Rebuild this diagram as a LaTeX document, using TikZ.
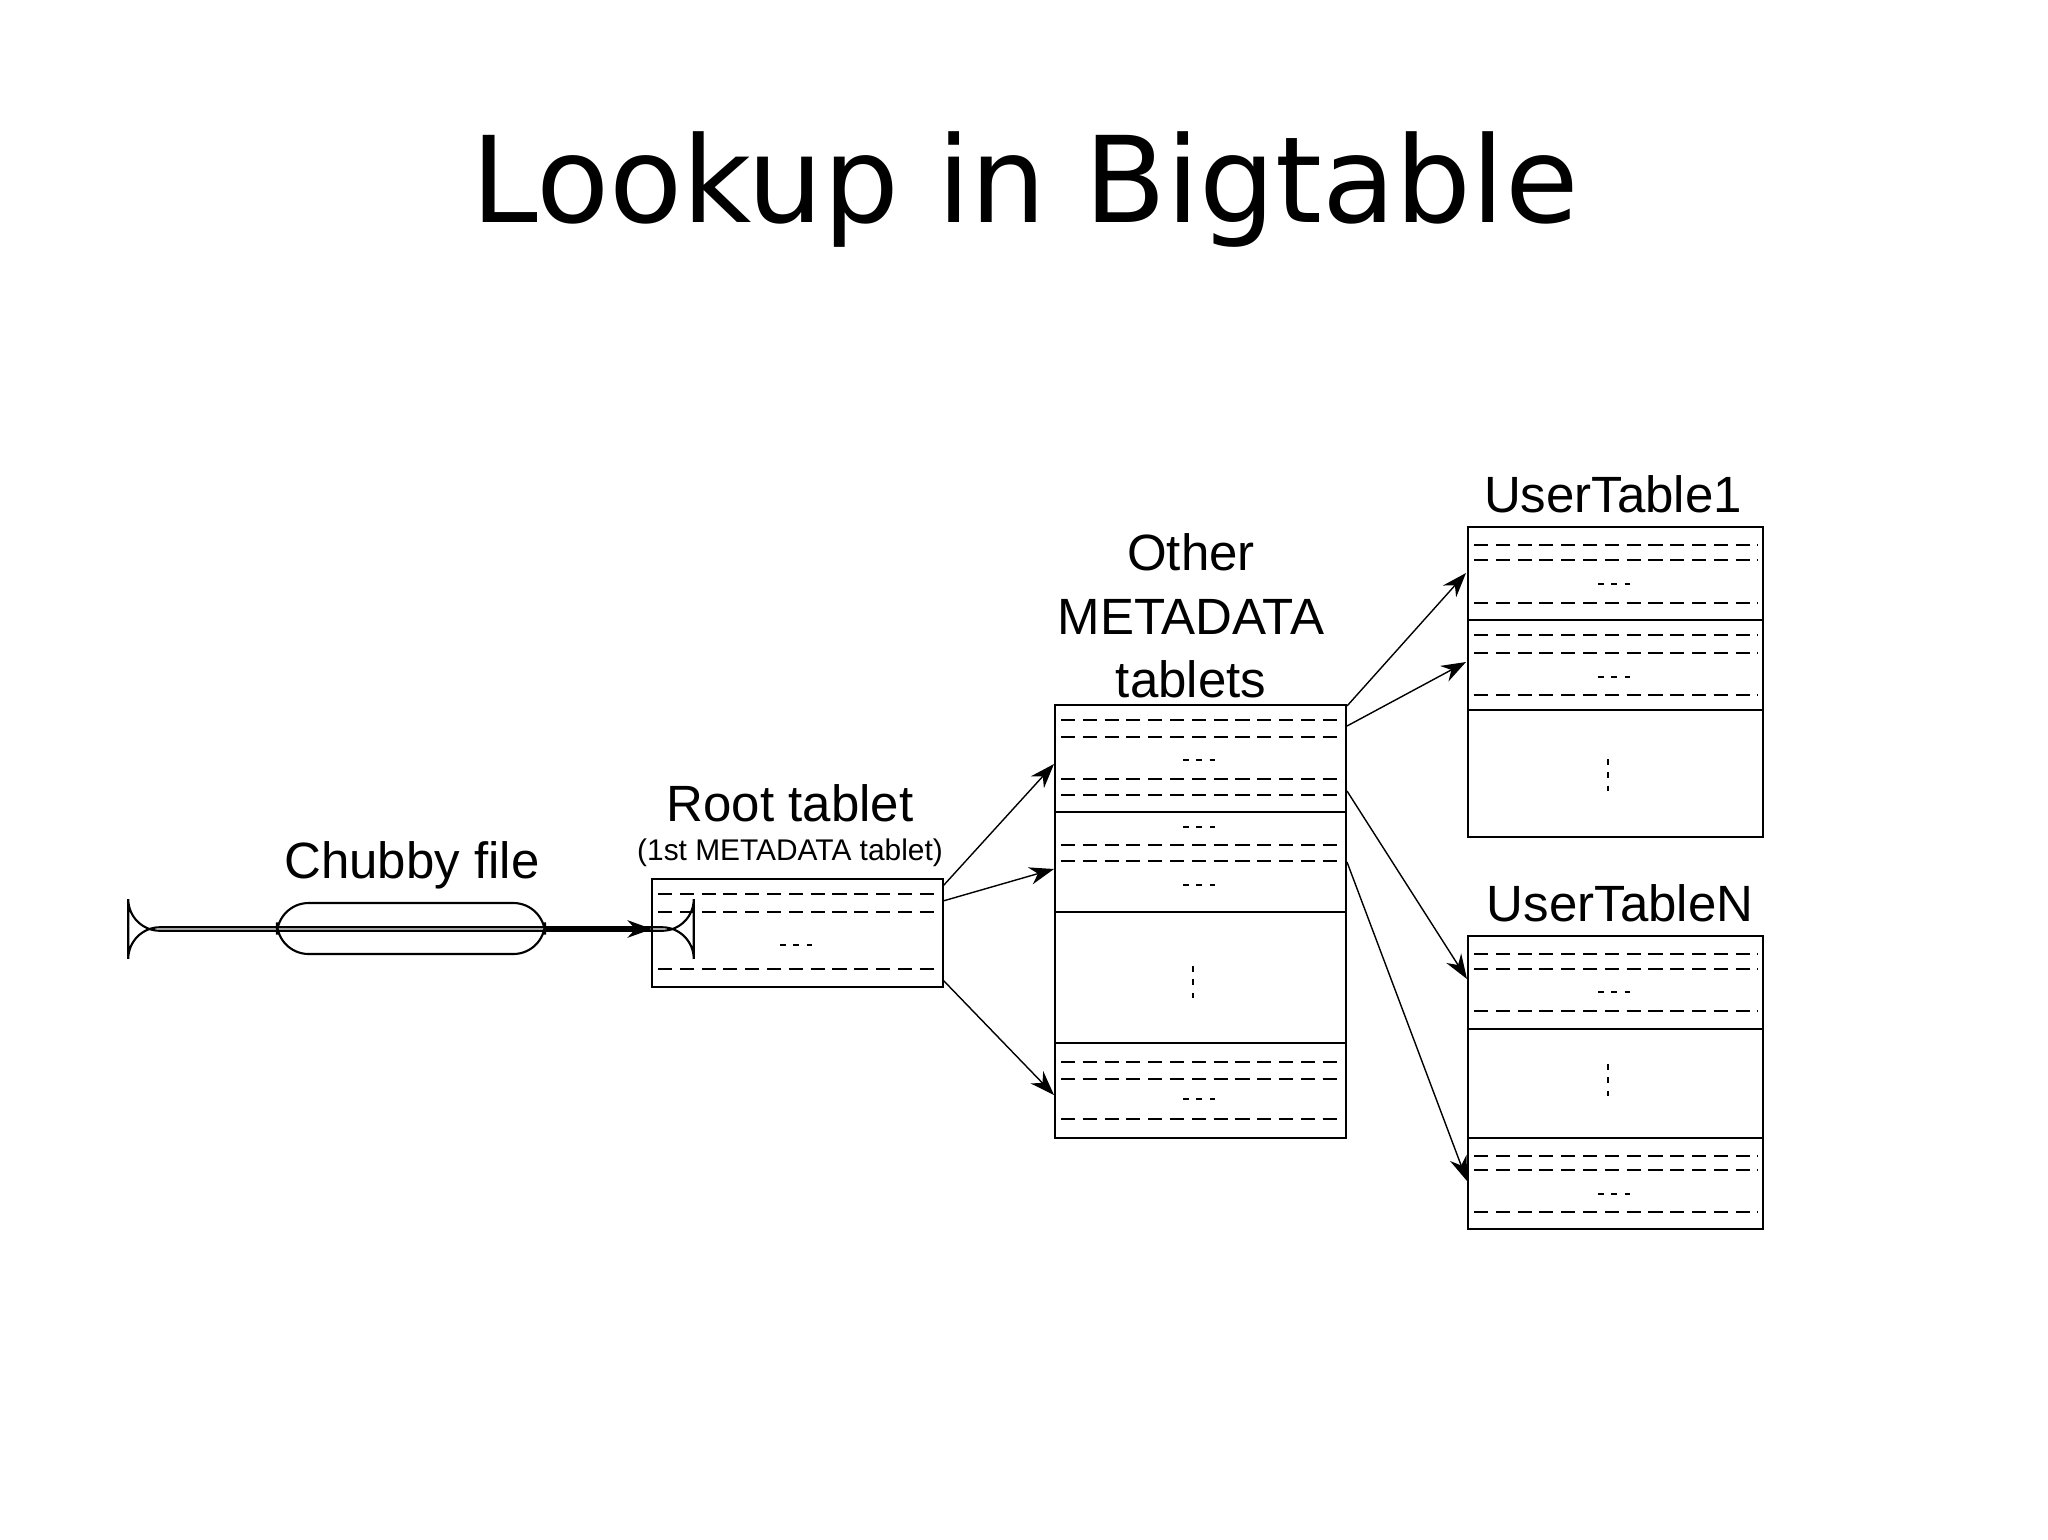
\documentclass[tikz,border=0pt]{standalone}
\usepackage{fontspec}
\setmainfont{Liberation Sans}
\newfontfamily\titlefont{DejaVu Sans}
\usetikzlibrary{arrows.meta}
\begin{document}
\begin{tikzpicture}[x=0.01cm,y=-0.01cm,
  box/.style={draw,line width=0.6pt},
  dsh/.style={line width=0.6pt,dash pattern=on 4pt off 2.2pt},
  ell/.style={line width=0.6pt,dash pattern=on 1.6pt off 2.2pt},
  lab/.style={font=\fontsize{14.5}{17}\selectfont,inner sep=0pt},
  arr/.style={-{Stealth[length=7pt,width=5pt]},line width=0.4pt}]
\useasboundingbox (0,0) rectangle (2048,1539);
\node[font=\titlefont\fontsize{34}{40}\selectfont] (title) at (1025,190) {Lookup in Bigtable};
% Chubby
\node[lab] (lchubby) at (412,865) {Chubby file};
\node[draw,line width=0.6pt,rounded corners=9pt,minimum width=268\pgflinewidth,inner sep=0pt] (chubby) at (411,929) {};
\path[draw,line width=0.6pt,rounded corners=9pt] (277,903) rectangle (545,954);
\coordinate (chR) at (545,929);
% Root
\node[lab] (lroot) at (790,803) {Root tablet};
\node[inner sep=0pt,font=\fontsize{8.5}{10}\selectfont] (lroot2) at (790,853) {(1st METADATA tablet)};
\draw[box] (652,879) rectangle (943,987);
\coordinate (rootL) at (652,929);
\foreach \y in {894,912,969} \draw[dsh] (658,\y) -- (938,\y);
\draw[ell] (780,945) -- (815,945);
% Meta
\node[lab,align=center] (lmeta) at (1191,616) {Other\\[1pt]METADATA\\[1pt]tablets};
\draw[box] (1055,705) rectangle (1346,1138);
\foreach \y in {812,912,1043} \draw[line width=0.6pt] (1055,\y) -- (1346,\y);
\foreach \y in {720,737,779,795,845,861,1062,1079,1119} \draw[dsh] (1061,\y) -- (1341,\y);
\foreach \y in {760,827,885,1099} \draw[ell] (1183,\y) -- (1218,\y);
\draw[ell] (1193,966) -- (1193,1004);
% UserTable1
\node[lab] (lut1) at (1613,494) {UserTable1};
\draw[box] (1468,527) rectangle (1763,837);
\foreach \y in {620,710} \draw[line width=0.6pt] (1468,\y) -- (1763,\y);
\foreach \y in {545,560,603,635,653,695} \draw[dsh] (1474,\y) -- (1758,\y);
\foreach \y in {584,677} \draw[ell] (1598,\y) -- (1633,\y);
\draw[ell] (1608,759) -- (1608,797);
% UserTableN
\node[lab] (lutn) at (1620,903) {UserTableN};
\draw[box] (1468,936) rectangle (1763,1229);
\foreach \y in {1029,1138} \draw[line width=0.6pt] (1468,\y) -- (1763,\y);
\foreach \y in {954,969,1011,1156,1170,1212} \draw[dsh] (1474,\y) -- (1758,\y);
\foreach \y in {992,1194} \draw[ell] (1598,\y) -- (1633,\y);
\draw[ell] (1608,1064) -- (1608,1103);
% arrows
\draw[arr,line width=0.6pt] (chR) -- (rootL);
\coordinate (r1) at (943,886); \coordinate (m1) at (1054,764);
\coordinate (r2) at (943,901); \coordinate (m2) at (1054,869);
\coordinate (r3) at (943,980); \coordinate (m3) at (1054,1095);
\draw[arr] (r1) -- (m1); \draw[arr] (r2) -- (m2); \draw[arr] (r3) -- (m3);
\coordinate (a1) at (1347,706); \coordinate (b1) at (1466,573);
\coordinate (a2) at (1347,726); \coordinate (b2) at (1466,662);
\coordinate (a3) at (1347,791); \coordinate (b3) at (1467,979);
\coordinate (a4) at (1347,862); \coordinate (b4) at (1467,1181);
\draw[arr] (a1) -- (b1); \draw[arr] (a2) -- (b2); \draw[arr] (a3) -- (b3); \draw[arr] (a4) -- (b4);
\end{tikzpicture}
\end{document}
